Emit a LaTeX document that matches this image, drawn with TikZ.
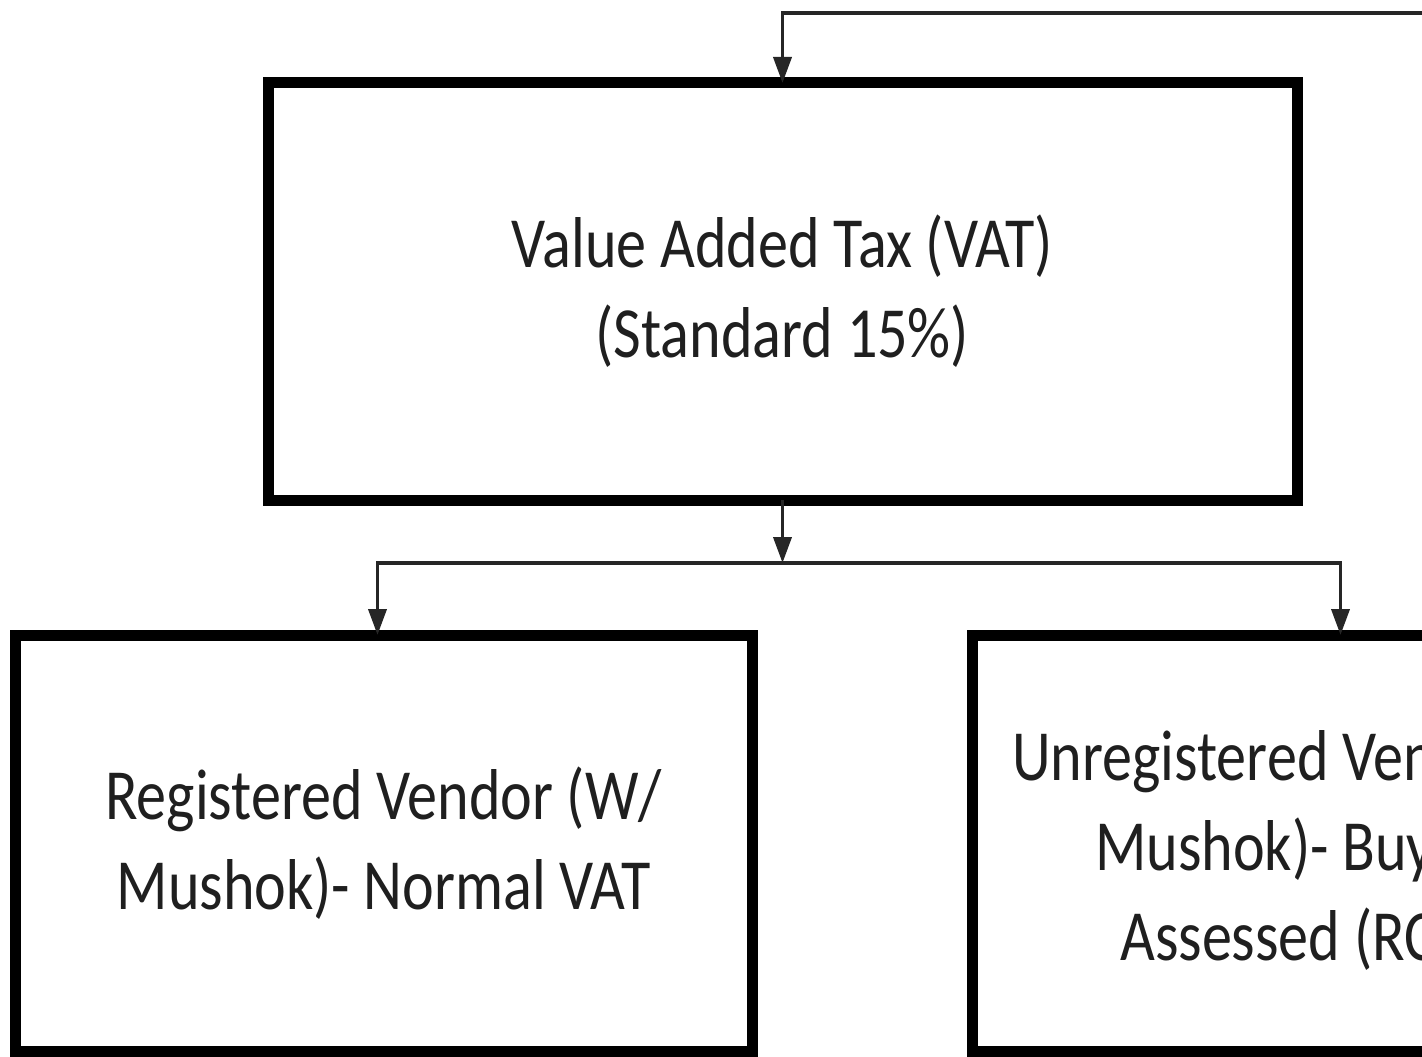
\documentclass[tikz,border=0pt]{standalone}
\usepackage{fontspec}
\setmainfont[FakeStretch=0.835]{Carlito}
\usetikzlibrary{arrows.meta}
\begin{document}
\begin{tikzpicture}[x=1pt,y=-1pt,
  box/.style={draw=black,line width=11pt,inner sep=0pt,outer sep=0pt,
    minimum width=737pt,minimum height=416pt,
    font=\fontsize{72}{90}\selectfont,text=black!88,align=center},
  rtxt/.style={anchor=base west,inner sep=0pt,font=\fontsize{72}{90}\selectfont,text=black!88},
  ln/.style={line width=3.8pt,draw=black!85},
  arr/.style={ln,-{Triangle[width=18pt,length=26pt]}}]
\clip (0,0) rectangle (1422,1057);
\node[box,minimum width=1029pt,minimum height=417pt] (vat) at (782.5,291.5)
  {Value Added Tax (VAT)\\(Standard 15\%)};
\node[box] (reg) at (383.5,843) {Registered Vendor (W/\\Mushok)- Normal VAT};
\node[box] (unreg) at (1340.5,843) {};
\node[rtxt] (u1) at (1012,780) {Unregistered Ven};
\node[rtxt] (u2) at (1095,870) {Mushok)- Buy};
\node[rtxt] (u3) at (1120,960) {Assessed (RC};
\coordinate (in) at (1440,13);
\coordinate (j) at (782.5,563);
\draw[arr] (in) -| (vat.north);
\draw[arr] (vat.south) -- (j);
\draw[arr] (j) -| ([xshift=-6pt]reg.north);
\draw[arr] (j) -| (unreg.north);
\end{tikzpicture}
\end{document}
